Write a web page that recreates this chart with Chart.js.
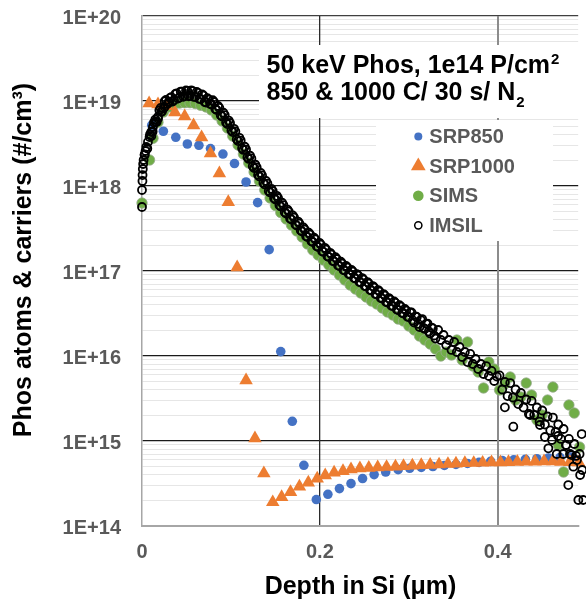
<!DOCTYPE html>
<html>
<head>
<meta charset="utf-8">
<title>Phos profile</title>
<script src="https://cdn.jsdelivr.net/npm/chart.js@4.4.1/dist/chart.umd.min.js"></script>
<style>
    html, body { margin: 0; padding: 0; background: #fff; }
    canvas { display: block; }
</style>
</head>
<body>
<canvas id="profileChart" width="586" height="599"></canvas>
<script>
// Axis ticks
const xTickValues = [0, 0.2, 0.4];
const xTickLabels = ['0', '0.2', '0.4'];
const yTickExponents = [14, 15, 16, 17, 18, 19, 20];
const yTickLabels = ['1E+14', '1E+15', '1E+16', '1E+17', '1E+18', '1E+19', '1E+20'];
const yMinorSteps = [2, 3, 4, 5, 6, 7, 8, 9];

// Texts
const seriesNames = ['SRP850', 'SRP1000', 'SIMS', 'IMSIL'];
const noteLines = ['50 keV Phos, 1e14 P/cm', '850 & 1000 C/ 30 s/ N'];
const noteScripts = ['2', '2'];
const xTitle = 'Depth in Si (\u03bcm)';
const yTitle = 'Phos atoms & carriers (#/cm\u00b3)';

// Data: depth in um, log10 of concentration (#/cm3)
const srp850Depth = [0.011, 0.024, 0.038, 0.051, 0.064, 0.077, 0.091, 0.104, 0.117, 0.130,
    0.143, 0.156, 0.169, 0.182, 0.196, 0.209, 0.222, 0.235, 0.248, 0.261,
    0.274, 0.288, 0.301, 0.314, 0.327, 0.340, 0.353, 0.366, 0.379, 0.392,
    0.405, 0.418, 0.431, 0.444, 0.457, 0.470, 0.483, 0.496];
const srp850Log = [18.716, 18.644, 18.573, 18.494, 18.479, 18.44, 18.376, 18.264, 18.047, 17.805,
    17.252, 16.052, 15.232, 14.714, 14.311, 14.373, 14.44, 14.499, 14.558, 14.605,
    14.635, 14.663, 14.679, 14.69, 14.70, 14.712, 14.724, 14.736, 14.748, 14.76,
    14.771, 14.778, 14.785, 14.792, 14.8, 14.806, 14.81, 14.813];

const srp1000Depth = [0.008, 0.018, 0.028, 0.037, 0.048, 0.058, 0.067, 0.077, 0.087, 0.097,
    0.107, 0.117, 0.127, 0.137, 0.147, 0.157, 0.167, 0.177, 0.187, 0.197,
    0.206, 0.216, 0.226, 0.235, 0.245, 0.255, 0.265, 0.275, 0.285, 0.294,
    0.304, 0.314, 0.324, 0.334, 0.344, 0.353, 0.363, 0.373, 0.383, 0.393,
    0.403, 0.412, 0.422, 0.432, 0.442, 0.452, 0.462, 0.471, 0.481, 0.491];
const srp1000Log = [18.973, 18.961, 18.94, 18.867, 18.82, 18.714, 18.573, 18.385, 18.149, 17.81,
    17.044, 15.714, 15.032, 14.62, 14.28, 14.341, 14.40, 14.463, 14.51, 14.558,
    14.596, 14.628, 14.647, 14.667, 14.679, 14.685, 14.69, 14.695, 14.70, 14.705,
    14.71, 14.716, 14.72, 14.724, 14.73, 14.735, 14.74, 14.742, 14.745, 14.748,
    14.75, 14.752, 14.755, 14.757, 14.758, 14.76, 14.76, 14.756, 14.752, 14.748];

const simsDepth = [0, 0.0085, 0.0124, 0.018, 0.024, 0.030, 0.036, 0.042, 0.048, 0.054,
    0.060, 0.066, 0.072, 0.078, 0.084, 0.090, 0.096, 0.102, 0.108, 0.114,
    0.120, 0.126, 0.132, 0.138, 0.144, 0.150, 0.156, 0.162, 0.168, 0.174,
    0.180, 0.186, 0.192, 0.198, 0.204, 0.210, 0.216, 0.222, 0.228, 0.234,
    0.240, 0.246, 0.252, 0.258, 0.264, 0.270, 0.276, 0.282, 0.288, 0.294,
    0.300, 0.306, 0.312, 0.318, 0.324, 0.330, 0.336, 0.342, 0.348, 0.354,
    0.360, 0.366, 0.372, 0.378, 0.384, 0.390, 0.396, 0.402, 0.408, 0.414,
    0.420, 0.426, 0.432, 0.438, 0.444, 0.450, 0.456, 0.462, 0.468, 0.474,
    0.480, 0.486, 0.492, 0.498];
const simsLog = [17.8, 18.306, 18.562, 18.75, 18.87, 18.93, 18.96, 18.975, 18.98, 18.98,
    18.97, 18.95, 18.93, 18.894, 18.835, 18.765, 18.682, 18.588, 18.482, 18.376,
    18.271, 18.165, 18.059, 17.953, 17.859, 17.771, 17.688, 17.612, 17.541, 17.471,
    17.4, 17.318, 17.247, 17.188, 17.129, 17.071, 17.012, 16.953, 16.894, 16.835,
    16.788, 16.741, 16.694, 16.647, 16.612, 16.565, 16.518, 16.482, 16.435, 16.412,
    16.353, 16.306, 16.235, 16.188, 16.141, 16.082, 16.0, 16.047, 16.012, 16.188,
    15.953, 16.165, 15.882, 15.812, 15.624, 15.929, 15.847, 15.6, 15.671, 15.753,
    15.482, 15.518, 15.682, 15.541, 15.247, 15.306, 15.482, 15.635, 14.953, 14.635,
    15.424, 15.329, 14.929, 14.106];

// IMSIL: surface points, main profile, a second pass through the dense band, tail scatter
const imsilDepth = [0, 0, 0.0005, 0.0006, 0.0009, 0.0013, 0.0018, 0.0029, 0.004, 0.0048,
    0.0067, 0.0085, 0.0104, 0.0123, 0.0152, 0.0179, 0.0216, 0.0254, 0.031,
    0.003, 0.006, 0.009, 0.012, 0.015, 0.018, 0.021, 0.024, 0.027, 0.030,
    0.033, 0.036, 0.039, 0.042, 0.045, 0.048, 0.051, 0.054, 0.057, 0.060,
    0.063, 0.066, 0.069, 0.072, 0.075, 0.078, 0.081, 0.084, 0.087, 0.090,
    0.093, 0.096, 0.099, 0.102, 0.105, 0.108, 0.111, 0.114, 0.117, 0.120,
    0.123, 0.126, 0.129, 0.132, 0.135, 0.138, 0.141, 0.144, 0.147, 0.150,
    0.153, 0.156, 0.159, 0.162, 0.165, 0.168, 0.171, 0.174, 0.177, 0.180,
    0.183, 0.186, 0.189, 0.192, 0.195, 0.198, 0.201, 0.204, 0.207, 0.210,
    0.213, 0.216, 0.219, 0.222, 0.225, 0.228, 0.231, 0.234, 0.237, 0.240,
    0.243, 0.246, 0.249, 0.252, 0.255, 0.258, 0.261, 0.264, 0.267, 0.270,
    0.273, 0.276, 0.279, 0.282, 0.285, 0.288, 0.291, 0.294, 0.297, 0.300,
    0.303, 0.306, 0.309, 0.312, 0.315, 0.318, 0.321, 0.324, 0.327, 0.330,
    0.333, 0.336, 0.339, 0.342, 0.345, 0.348, 0.351, 0.354, 0.357, 0.360,
    0.363, 0.366, 0.369, 0.372, 0.375, 0.378, 0.381, 0.384, 0.387, 0.390,
    0.393, 0.396, 0.399, 0.402, 0.405, 0.408, 0.411, 0.414, 0.417, 0.420,
    0.423, 0.426, 0.429, 0.432, 0.435, 0.438, 0.441, 0.444, 0.447, 0.450,
    0.453, 0.456, 0.459, 0.462, 0.465, 0.468, 0.471, 0.474, 0.477, 0.480,
    0.483, 0.486, 0.489, 0.492, 0.495, 0.498,
    0.0105, 0.0135, 0.0165, 0.0195, 0.0225, 0.0255, 0.0285, 0.0315, 0.0345, 0.0375,
    0.0405, 0.0435, 0.0465, 0.0495, 0.0525, 0.0555, 0.0585, 0.0615, 0.0645, 0.0675,
    0.0705, 0.0735, 0.0765, 0.0795, 0.0825, 0.0855, 0.0885, 0.0915, 0.0945, 0.0975,
    0.1005, 0.1035, 0.1065, 0.1095, 0.1125, 0.1155, 0.1185, 0.1215, 0.1245, 0.1275,
    0.1305, 0.1335, 0.1365, 0.1395, 0.1425, 0.1455, 0.1485, 0.1515, 0.1545, 0.1575,
    0.1605, 0.1635, 0.1665, 0.1695, 0.1725, 0.1755, 0.1785, 0.1815, 0.1845, 0.1875,
    0.1905, 0.1935, 0.1965, 0.1995, 0.2025, 0.2055, 0.2085, 0.2115, 0.2145, 0.2175,
    0.2205, 0.2235, 0.2265, 0.2295, 0.2325, 0.2355, 0.2385, 0.2415, 0.2445, 0.2475,
    0.2505, 0.2535, 0.2565, 0.2595, 0.2625, 0.2655, 0.2685, 0.2715, 0.2745, 0.2775,
    0.2805, 0.2835, 0.2865, 0.2895, 0.2925, 0.2955, 0.2985, 0.3015, 0.3045, 0.3075,
    0.3105, 0.3135, 0.3165, 0.3195, 0.3225, 0.3255, 0.3285,
    0.408, 0.4175, 0.4363, 0.4475, 0.453, 0.4569, 0.461, 0.4663, 0.4678, 0.4737,
    0.4767, 0.4793, 0.4812, 0.485, 0.488, 0.4906, 0.4926, 0.4944, 0.4962, 0.497];
const imsilLog = [17.753, 17.953, 18.059, 18.129, 18.2, 18.259, 18.306, 18.365, 18.412, 18.459,
    18.518, 18.576, 18.635, 18.694, 18.753, 18.812, 18.871, 18.929, 18.988,
    18.371, 18.441, 18.606, 18.641, 18.782, 18.794, 18.918, 18.912, 19.012, 18.988,
    19.046, 19.011, 19.088, 19.041, 19.111, 19.058, 19.119, 19.061, 19.117, 19.049,
    19.096, 19.023, 19.064, 18.982, 19.017, 18.959, 18.988, 18.894, 18.918, 18.818,
    18.835, 18.729, 18.741, 18.635, 18.641, 18.529, 18.535, 18.424, 18.429, 18.318,
    18.324, 18.212, 18.218, 18.112, 18.124, 18.018, 18.029, 17.924, 17.941, 17.841,
    17.859, 17.759, 17.776, 17.676, 17.7, 17.606, 17.629, 17.535, 17.559, 17.465,
    17.488, 17.4, 17.429, 17.341, 17.371, 17.282, 17.312, 17.224, 17.253, 17.165,
    17.194, 17.112, 17.141, 17.059, 17.088, 17.006, 17.041, 16.959, 16.994, 16.912,
    16.947, 16.865, 16.9, 16.818, 16.853, 16.771, 16.806, 16.724, 16.759, 16.676,
    16.712, 16.629, 16.665, 16.588, 16.624, 16.541, 16.582, 16.5, 16.535, 16.459,
    16.512, 16.394, 16.459, 16.341, 16.435, 16.318, 16.382, 16.265, 16.324, 16.206,
    16.306, 16.188, 16.247, 16.129, 16.188, 16.071, 16.165, 16.047, 16.106, 15.988,
    16.047, 15.929, 16.024, 15.906, 15.965, 15.847, 15.906, 15.788, 15.882, 15.765,
    15.824, 15.706, 15.759, 15.771, 15.606, 15.694, 15.529, 15.682, 15.512, 15.606,
    15.435, 15.565, 15.394, 15.488, 15.318, 15.471, 15.306, 15.394, 15.229, 15.359,
    15.194, 15.288, 15.124, 15.276, 15.106, 15.194, 15.024, 15.141, 14.953, 15.024,
    14.835, 14.965, 14.776, 14.847, 14.659, 14.765,
    18.588, 18.747, 18.753, 18.891, 18.88, 18.997, 18.965, 19.037, 18.994, 19.084,
    19.029, 19.111, 19.05, 19.124, 19.055, 19.124, 19.048, 19.107, 19.024, 19.079,
    18.988, 19.034, 18.968, 19.009, 18.906, 18.941, 18.833, 18.862, 18.747, 18.77,
    18.653, 18.673, 18.55, 18.567, 18.444, 18.462, 18.338, 18.356, 18.233, 18.25,
    18.13, 18.153, 18.036, 18.059, 17.941, 17.967, 17.856, 17.885, 17.774, 17.803,
    17.691, 17.723, 17.618, 17.653, 17.547, 17.582, 17.477, 17.512, 17.409, 17.45,
    17.35, 17.391, 17.291, 17.332, 17.233, 17.273, 17.174, 17.214, 17.118, 17.162,
    17.065, 17.109, 17.012, 17.059, 16.965, 17.012, 16.918, 16.964, 16.871, 16.917,
    16.824, 16.87, 16.777, 16.823, 16.73, 16.776, 16.683, 16.729, 16.636, 16.682,
    16.591, 16.641, 16.547, 16.597, 16.506, 16.553, 16.462, 16.512, 16.418, 16.467,
    16.377, 16.423, 16.33, 16.379, 16.288, 16.335, 16.241,
    15.396, 15.168, 15.306, 15.188, 15.047, 14.914, 15.012, 14.847, 15.059, 14.847,
    14.953, 14.482, 14.847, 14.698, 14.824, 14.306, 14.6, 15.082, 14.306, 14.871];

const FONT = '"Liberation Sans", Arial, Helvetica, sans-serif';
Chart.defaults.font.family = FONT;

function toPoints(depths, logs) {
    return depths.map((d, i) => ({ x: d, y: Math.pow(10, logs[i]) }));
}

// Decade + minor ticks for the log axis
const yTickValues = [];
yTickExponents.forEach(e => {
    yTickValues.push(Math.pow(10, e));
    if (e < 20) yMinorSteps.forEach(m => yTickValues.push(m * Math.pow(10, e)));
});

function isDecade(v) {
    const e = Math.log10(v);
    return Math.abs(e - Math.round(e)) < 1e-9;
}

// Legend marker styles, same order as seriesNames
const markerStyles = [
    { shape: 'circle', r: 4, fill: '#4472C4', stroke: null },
    { shape: 'triangle', r: 8.5, fill: '#ED7D31', stroke: null },
    { shape: 'circle', r: 5.3, fill: '#70AD47', stroke: null },
    { shape: 'circle', r: 3.6, fill: null, stroke: '#000' }
];

function drawMarker(c, s, x, y) {
    c.beginPath();
    if (s.shape === 'triangle') {
        c.moveTo(x, y - s.r);
        c.lineTo(x + s.r * 0.866, y + s.r * 0.5);
        c.lineTo(x - s.r * 0.866, y + s.r * 0.5);
        c.closePath();
    } else {
        c.arc(x, y, s.r, 0, Math.PI * 2);
    }
    if (s.fill) { c.fillStyle = s.fill; c.fill(); }
    if (s.stroke) { c.strokeStyle = s.stroke; c.lineWidth = 1.5; c.stroke(); }
}

// White note box, legend box and axis titles
const overlayPlugin = {
    id: 'overlay',
    beforeDatasetsDraw(chart) {
        const c = chart.ctx;
        c.save();
        c.fillStyle = '#fff';
        c.fillRect(259, 45, 330, 73);
        c.fillRect(376, 120, 177, 121);

        // note text with super/subscript
        c.fillStyle = '#000';
        c.textBaseline = 'alphabetic';
        c.textAlign = 'left';
        const baselines = [72.7, 100];
        const scriptShift = [-8.5, 6.5];
        noteLines.forEach((line, i) => {
            c.font = 'bold 25px ' + FONT;
            c.fillText(line, 266.5, baselines[i]);
            const w = c.measureText(line).width;
            c.font = 'bold 15px ' + FONT;
            c.fillText(noteScripts[i], 266.5 + w + 1, baselines[i] + scriptShift[i]);
        });

        // legend
        c.font = 'bold 20px ' + FONT;
        c.textBaseline = 'middle';
        seriesNames.forEach((name, i) => {
            const y = 136.5 + i * 29.6;
            drawMarker(c, markerStyles[i], 418.3, y);
            c.fillStyle = '#595959';
            c.fillText(name, 429.3, y + 1);
        });
        c.restore();
    },
    afterDraw(chart) {
        const c = chart.ctx;
        c.save();
        c.fillStyle = '#000';
        c.font = 'bold 25px ' + FONT;
        c.textBaseline = 'alphabetic';
        c.textAlign = 'center';
        c.fillText(xTitle, 360.5, 594);
        c.translate(30.5, 260);
        c.rotate(-Math.PI / 2);
        c.fillText(yTitle, 0, 0);
        c.restore();
    }
};

const ctx = document.getElementById('profileChart').getContext('2d');
const profileChart = new Chart(ctx, {
    type: 'scatter',
    data: {
        datasets: [
            {
                label: seriesNames[3],
                data: toPoints(imsilDepth, imsilLog),
                pointStyle: 'circle',
                pointRadius: 4,
                pointBackgroundColor: 'rgba(0,0,0,0)',
                pointBorderColor: '#000',
                pointBorderWidth: 1.8,
                order: 1,
                clip: false
            },
            {
                label: seriesNames[1],
                data: toPoints(srp1000Depth, srp1000Log),
                pointStyle: 'triangle',
                pointRadius: 7.8,
                pointBackgroundColor: '#ED7D31',
                pointBorderColor: '#ED7D31',
                pointBorderWidth: 0,
                order: 2,
                clip: false
            },
            {
                label: seriesNames[0],
                data: toPoints(srp850Depth, srp850Log),
                pointStyle: 'circle',
                pointRadius: 4.8,
                pointBackgroundColor: '#4472C4',
                pointBorderColor: '#4472C4',
                pointBorderWidth: 0,
                order: 3,
                clip: false
            },
            {
                label: seriesNames[2],
                data: toPoints(simsDepth, simsLog),
                pointStyle: 'circle',
                pointRadius: 5.2,
                pointBackgroundColor: '#70AD47',
                pointBorderColor: 'rgba(150,170,140,0.8)',
                pointBorderWidth: 1,
                order: 4,
                clip: false
            }
        ]
    },
    options: {
        responsive: false,
        animation: false,
        devicePixelRatio: 1,
        layout: { padding: { top: 16, right: 0, bottom: 0, left: 0 } },
        plugins: {
            legend: { display: false },
            tooltip: { enabled: false }
        },
        scales: {
            x: {
                type: 'linear',
                min: 0,
                max: 0.499,
                afterBuildTicks: (scale) => { scale.ticks = xTickValues.map(v => ({ value: v })); },
                afterFit: (scale) => {
                    scale.height = 73;
                    scale.paddingLeft = 0;
                    scale.paddingRight = 0;
                },
                grid: {
                    z: -1,
                    drawTicks: true,
                    tickLength: 10,
                    tickColor: 'rgba(0,0,0,0)',
                    color: (c) => {
                        const v = c.tick ? c.tick.value : 0;
                        if (v === 0) return 'rgba(0,0,0,0)';
                        return v < 0.3 ? '#2b2b2b' : '#8c8c8c';
                    },
                    lineWidth: (c) => (c.tick && c.tick.value > 0.3 ? 2 : 1.3)
                },
                border: { display: true, color: '#A6A6A6', width: 2 },
                ticks: {
                    autoSkip: false,
                    maxRotation: 0,
                    padding: 4,
                    color: '#595959',
                    font: { size: 20, weight: 'bold' },
                    callback: (v, i) => xTickLabels[i]
                }
            },
            y: {
                type: 'logarithmic',
                min: 1e14,
                max: 1e20,
                afterBuildTicks: (scale) => { scale.ticks = yTickValues.map(v => ({ value: v, major: isDecade(v) })); },
                afterFit: (scale) => { scale.width = 142; },
                grid: {
                    z: -2,
                    drawTicks: true,
                    tickLength: 17,
                    tickColor: 'rgba(0,0,0,0)',
                    color: (c) => {
                        const v = c.tick ? c.tick.value : 1;
                        if (!isDecade(v)) return '#E6E6E6';
                        if (v <= 1e14) return 'rgba(0,0,0,0)';
                        if (v >= 1e20) return '#404040';
                        return '#1a1a1a';
                    },
                    lineWidth: (c) => (c.tick && isDecade(c.tick.value) ? 1.2 : 1)
                },
                border: { display: true, color: '#A6A6A6', width: 1.5 },
                ticks: {
                    autoSkip: false,
                    padding: 4,
                    labelOffset: 2,
                    color: '#595959',
                    font: { size: 20, weight: 'bold' },
                    callback: (v) => isDecade(v) ? yTickLabels[yTickExponents.indexOf(Math.round(Math.log10(v)))] : ''
                }
            }
        }
    },
    plugins: [overlayPlugin]
});

// The plot runs off the right edge of the figure: stretch the area to the canvas edge,
// and if the layout still keeps a gap, keep 0.2 um = 178 px as in the original
let gap = profileChart.width - profileChart.chartArea.right;
if (gap > 0.5) {
    profileChart.options.layout.padding.right = -gap;
    profileChart.update();
    gap = profileChart.width - profileChart.chartArea.right;
    if (gap > 0.5) {
        const area = profileChart.chartArea;
        profileChart.options.scales.x.max = (area.right - area.left) / 889.4;
        profileChart.update();
    }
}
</script>
</body>
</html>
